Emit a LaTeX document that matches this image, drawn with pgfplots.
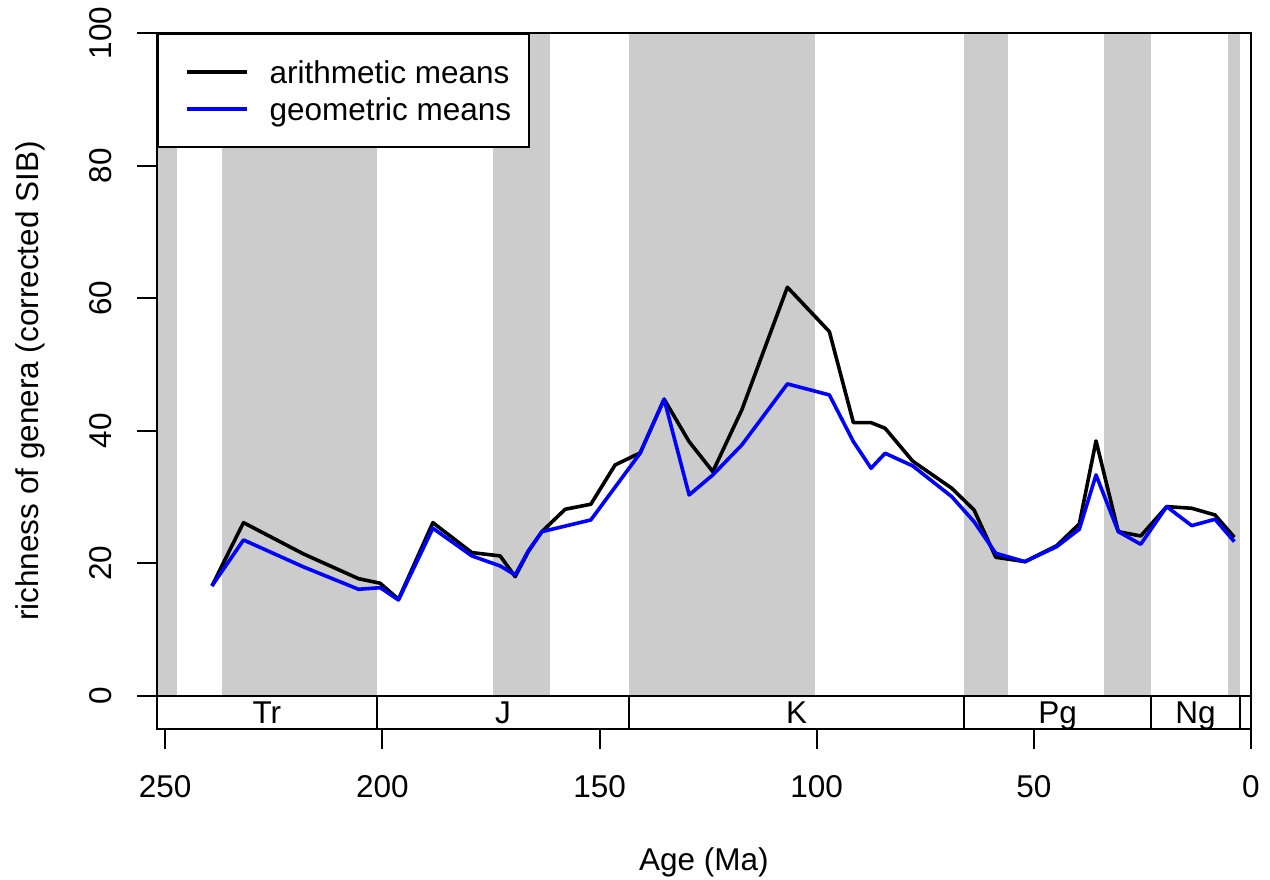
\documentclass[border=0pt]{standalone}
\usepackage{fontspec}
\setmainfont{Liberation Sans}
\usepackage{pgfplots}
\pgfplotsset{compat=1.18}
\usepackage{pgfplotstable}

\definecolor{bandgray}{RGB}{204,204,204}
\definecolor{geoblue}{RGB}{0,0,255}

% richness per stage, arithmetic means
\pgfplotstableread{
age    val
239.25 16.58
231.98 26.13
218.16 21.41
205.50 17.68
200.51 16.99
196.29 14.57
188.38 26.13
179.40 21.61
172.88 21.11
169.43 17.98
166.37 21.80
163.28 24.77
157.92 28.15
152.00 28.91
146.41 34.84
140.65 36.65
135.13 44.75
129.37 38.35
123.92 33.83
117.24 43.14
106.75 61.65
97.08  54.95
91.55  41.22
87.48  41.22
84.25  40.37
77.88  35.40
68.90  31.32
63.77  28.05
58.77  20.91
52.03  20.25
44.73  22.66
39.53  25.94
35.68  38.46
30.55  24.77
25.39  24.12
19.41  28.55
13.65  28.30
8.29   27.29
3.84   23.93
}\arith

% richness per stage, geometric means
\pgfplotstableread{
age    val
239.25 16.58
231.98 23.52
218.16 19.45
205.50 16.08
200.51 16.32
196.29 14.47
188.38 25.29
179.40 21.11
172.88 19.60
169.43 18.24
166.37 21.91
163.28 24.77
152.00 26.54
140.65 36.60
135.13 44.75
129.37 30.31
123.92 33.33
117.24 37.85
106.75 47.06
97.08  45.40
91.55  38.35
87.48  34.34
84.25  36.60
77.88  34.69
68.90  30.05
63.77  26.28
58.77  21.51
52.03  20.25
44.73  22.51
39.53  25.14
35.68  33.33
30.55  24.77
25.39  22.87
19.41  28.55
13.65  25.68
8.29   26.64
3.84   23.27
}\geom

\begin{document}
\begin{tikzpicture}[font=\fontsize{15.75}{18.9}\selectfont]
\path[use as bounding box] (-78.5pt,-75pt) rectangle (556.5pt,364.5pt);
\begin{axis}[
  at={(0pt,0pt)}, anchor=south west,
  scale only axis, width=547pt, height=348pt,
  x dir=reverse, xmin=0, xmax=251.9, ymin=-5, ymax=100,
  xtick={0,50,...,250}, ytick={0,20,...,100},
  xtick pos=left, ytick pos=left,
  tick align=outside, major tick length=9.75pt,
  tick style={black, line width=1pt},
  axis line style={black, line width=1pt},
  axis on top,
  /pgf/number format/assume math mode=true,
  xticklabel style={anchor=north, inner sep=0pt},
  yticklabel style={rotate=90, anchor=base, inner sep=0pt},
  xticklabel shift=13.25pt, yticklabel shift=12.75pt,
  xlabel={Age (Ma)}, ylabel={richness of genera (corrected SIB)},
  every axis x label/.style={at={(axis description cs:0.5,-0.2040)}, anchor=base, inner sep=0pt},
  every axis y label/.style={at={(axis description cs:-0.1085,0.5)}, rotate=90, anchor=base, inner sep=0pt},
  legend style={at={(axis description cs:0,1)}, anchor=north west, draw=black, line width=1pt,
    fill=white, inner xsep=8.8pt, inner ysep=9.75pt, row sep=0pt, /tikz/column sep=0pt,
    nodes={inner sep=0pt, text height=14.8pt, text depth=3.7pt}},
  legend cell align=left,
  legend image code/.code={\path (0pt,0pt) (45.2pt,0pt); \draw[#1] (4.7pt,0pt) -- (34.7pt,0pt);},
]
% alternating epoch bands
\addplot[fill=bandgray, draw=none, forget plot] coordinates {(251.9,0) (247.2,0) (247.2,100) (251.9,100)} -- cycle;
\addplot[fill=bandgray, draw=none, forget plot] coordinates {(237.0,0) (201.3,0) (201.3,100) (237.0,100)} -- cycle;
\addplot[fill=bandgray, draw=none, forget plot] coordinates {(174.5,0) (161.5,0) (161.5,100) (174.5,100)} -- cycle;
\addplot[fill=bandgray, draw=none, forget plot] coordinates {(143.2,0) (100.5,0) (100.5,100) (143.2,100)} -- cycle;
\addplot[fill=bandgray, draw=none, forget plot] coordinates {(66.0,0) (56.0,0) (56.0,100) (66.0,100)} -- cycle;
\addplot[fill=bandgray, draw=none, forget plot] coordinates {(33.9,0) (23.03,0) (23.03,100) (33.9,100)} -- cycle;
\addplot[fill=bandgray, draw=none, forget plot] coordinates {(5.33,0) (2.58,0) (2.58,100) (5.33,100)} -- cycle;

% period strip
\addplot[black, line width=1pt, forget plot] coordinates {(251.9,0) (0,0)};
\addplot[black, line width=1pt, forget plot] coordinates {(201.3,-5) (201.3,0)};
\addplot[black, line width=1pt, forget plot] coordinates {(143.2,-5) (143.2,0)};
\addplot[black, line width=1pt, forget plot] coordinates {(66.0,-5) (66.0,0)};
\addplot[black, line width=1pt, forget plot] coordinates {(23.03,-5) (23.03,0)};
\addplot[black, line width=1pt, forget plot] coordinates {(2.58,-5) (2.58,0)};
\node[anchor=base, inner sep=0pt] at (axis cs:226.6,-4.13) {Tr};
\node[anchor=base, inner sep=0pt] at (axis cs:172.25,-4.13) {J};
\node[anchor=base, inner sep=0pt] at (axis cs:104.6,-4.13) {K};
\node[anchor=base, inner sep=0pt] at (axis cs:44.5,-4.13) {Pg};
\node[anchor=base, inner sep=0pt] at (axis cs:12.8,-4.13) {Ng};

% richness curves
\addplot[black, line width=1.8pt, line join=round] table[x=age, y=val] {\arith};
\addlegendentry{arithmetic means}
\addplot[geoblue, line width=1.8pt, line join=round] table[x=age, y=val] {\geom};
\addlegendentry{geometric means}
\end{axis}
\end{tikzpicture}
\end{document}
